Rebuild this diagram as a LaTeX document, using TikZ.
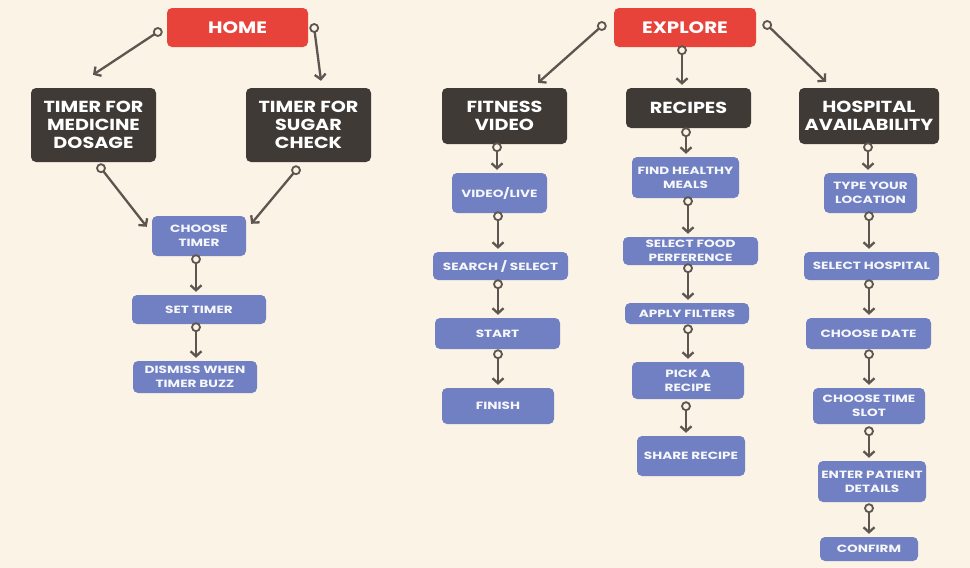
\documentclass[tikz,border=0pt]{standalone}
\usepackage{fontspec}
\setmainfont{Poppins}
\newfontfamily\widefont{Poppins}[FakeStretch=1.2]
\newfontfamily\bluefont{Poppins}[FakeStretch=1.3]
\usetikzlibrary{arrows.meta,calc}
\definecolor{bg}{HTML}{FBF3E5}
\definecolor{redbox}{HTML}{E8433A}
\definecolor{darkbox}{HTML}{3F3A36}
\definecolor{bluebox}{HTML}{7080C2}
\definecolor{arr}{HTML}{5C5550}
\tikzset{
  base/.style={rectangle, rounded corners=5pt, inner sep=0pt, align=center, text=white},
  redn/.style={base, fill=redbox, font=\widefont\fontsize{16.5}{18}\selectfont\bfseries},
  darkn/.style={base, fill=darkbox, font=\widefont\fontsize{16}{17.7}\selectfont\bfseries},
  bluen/.style={base, fill=bluebox, text=white!94!bluebox, font=\bluefont\fontsize{10.5}{14}\selectfont\bfseries},
  conn/.style={draw=arr, line width=2.3pt, -{Straight Barb[length=5pt,width=11pt,line width=2.3pt]}},
  ringsty/.style={draw=arr, line width=1.8pt, fill=bg},
}
\newcommand\link[2]{\draw[conn] (#1) -- (#2); \draw[ringsty] (#1) circle[radius=4];}
\newcommand\vlink[4]{%
  \coordinate (vs) at ($(#1.south)+(#3,#4)$);
  \coordinate (ve) at ($(vs |- #2.north)+(0,-3)$);
  \draw[conn] (vs) -- (ve);
  \draw[ringsty] (vs) circle[radius=4];}
\begin{document}
\begin{tikzpicture}[x=1pt,y=-1pt]
\fill[bg] (0,0) rectangle (970,568);
\useasboundingbox (0,0) rectangle (970,568);
% top level
\node[redn, minimum width=141pt, minimum height=39pt] (home) at (237.5,27.5) {HOME};
\node[redn, minimum width=142pt, minimum height=39pt] (explore) at (685,27.5) {EXPLORE};
% second level
\node[darkn, minimum width=125pt, minimum height=74pt] (tmed) at (93.5,125) {TIMER FOR\\MEDICINE\\DOSAGE};
\node[darkn, minimum width=125pt, minimum height=74pt] (tsug) at (308.5,125) {TIMER FOR\\SUGAR\\CHECK};
\node[darkn, minimum width=125pt, minimum height=56pt] (fit) at (504.5,116) {FITNESS\\VIDEO};
\node[darkn, minimum width=125pt, minimum height=40pt] (rec) at (688.5,108) {RECIPES};
\node[darkn, minimum width=140pt, minimum height=56pt] (hosp) at (869,116) {HOSPITAL\\AVAILABILITY};
% home steps
\node[bluen, minimum width=94pt, minimum height=40pt] (choose) at (199,236) {CHOOSE\\TIMER};
\node[bluen, minimum width=134pt, minimum height=29pt] (set) at (199,309.5) {SET TIMER};
\node[bluen, minimum width=124pt, minimum height=32pt] (dismiss) at (195,377) {DISMISS WHEN\\TIMER BUZZ};
% fitness steps
\node[bluen, minimum width=95pt, minimum height=40pt] (vlive) at (499.5,193) {VIDEO/LIVE};
\node[bluen, minimum width=135pt, minimum height=28pt] (search) at (500.5,266) {SEARCH / SELECT};
\node[bluen, minimum width=125pt, minimum height=31pt] (start) at (497.5,333.5) {START};
\node[bluen, minimum width=112pt, minimum height=36pt] (finish) at (498,406) {FINISH};
% recipe steps
\node[bluen, minimum width=107pt, minimum height=41pt] (find) at (685.5,177.5) {FIND HEALTHY\\MEALS};
\node[bluen, minimum width=135pt, minimum height=28pt] (selfood) at (690.5,251) {SELECT FOOD\\PERFERENCE};
\node[bluen, minimum width=124pt, minimum height=21pt] (apply) at (687,313.5) {APPLY FILTERS};
\node[bluen, minimum width=112pt, minimum height=37pt] (pick) at (688,380.5) {PICK A\\RECIPE};
\node[bluen, minimum width=108pt, minimum height=40pt] (share) at (691,456) {SHARE RECIPE};
% hospital steps
\node[bluen, minimum width=93pt, minimum height=40pt] (type) at (870.5,193) {TYPE YOUR\\LOCATION};
\node[bluen, minimum width=135pt, minimum height=28pt] (selhosp) at (871.5,266) {SELECT HOSPITAL};
\node[bluen, minimum width=125pt, minimum height=31pt] (date) at (868.5,333.5) {CHOOSE DATE};
\node[bluen, minimum width=112pt, minimum height=36pt] (slot) at (869,406) {CHOOSE TIME\\SLOT};
\node[bluen, minimum width=108pt, minimum height=41pt] (patient) at (872,481.5) {ENTER PATIENT\\DETAILS};
\node[bluen, minimum width=98pt, minimum height=24pt] (confirm) at (869,549) {CONFIRM};
% diagonal / top connectors
\link{$(home.west)+(-9,4.5)$}{$(tmed.north)+(-0.5,-13)$}
\link{$(home.east)+(6,0.5)$}{$(tsug.north)+(12.5,-7)$}
\link{$(tmed.south)+(7.5,6)$}{$(choose.north west)+(-5,11)$}
\link{$(tsug.south)+(-12.5,8)$}{$(choose.north east)+(5,8)$}
\link{$(explore.west)+(-12,-1.5)$}{$(fit.north)+(33.5,-5)$}
\link{$(explore.south)+(-3,3)$}{$(rec.north)+(-6.5,-3)$}
\link{$(explore.east)+(11,-2.5)$}{$(hosp.north)+(-43,-6)$}
% vertical connectors
\vlink{choose}{set}{-3}{3}
\vlink{set}{dismiss}{-3}{3}
\vlink{fit}{vlive}{-7.5}{3}
\vlink{vlive}{search}{-1.5}{3}
\vlink{search}{start}{-2.5}{4}
\vlink{start}{finish}{0.5}{5}
\vlink{rec}{find}{-2.5}{4}
\vlink{find}{selfood}{2.5}{3}
\vlink{selfood}{apply}{-2.5}{3}
\vlink{apply}{pick}{1}{5}
\vlink{pick}{share}{-2}{7}
\vlink{hosp}{type}{-1}{3}
\vlink{type}{selhosp}{-1.5}{3}
\vlink{selhosp}{date}{-2.5}{4}
\vlink{date}{slot}{0.5}{5}
\vlink{slot}{patient}{0}{7}
\vlink{patient}{confirm}{-3}{6}
\end{tikzpicture}
\end{document}
